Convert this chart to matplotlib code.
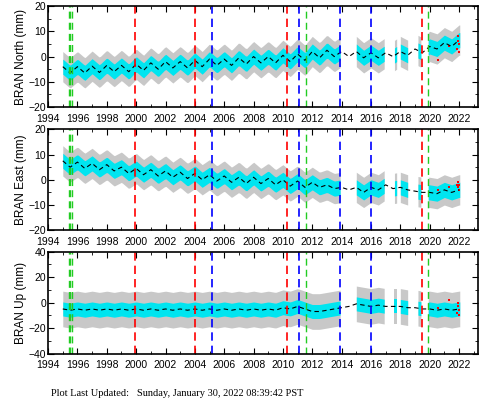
import numpy as np
import matplotlib.pyplot as plt
from matplotlib.ticker import MultipleLocator

# model curve knots, every half year from 1995.0 to 2022.0
model_years = np.arange(1995.0, 2022.01, 0.5)
north_model = [-4, -6.5, -4, -6.5, -3.8, -6.3, -3.5, -6, -3.5, -6, -3, -5.5, -2.5, -5,
               -2, -4.5, -2, -4.5, -1.5, -4, -1, -3.5, -1, -3.5, -0.5, -3, 0, -2.5,
               0, -2.5, 0.5, -2, 1, -1.5, 2, -0.5, 2.5, 0, 2, 0, 2, -0.5, 1.5, -0.5,
               1.5, 0, 2, 0.5, 3, 1.5, 4, 3, 5.5, 4, 6.5]
east_model = [7.5, 5, 7, 4.5, 6.5, 4, 6, 3.5, 5, 2.5, 4.5, 2, 4, 1.5, 3.5, 1, 3, 0.5,
              2.5, 0, 2, -0.5, 1.5, -1, 1, -1.5, 1, -1.5, 0.5, -2, 0, -2.5, -0.5, -3,
              -1, -3, -2, -3.5, -3, -4, -3, -5, -3, -4, -2, -3.5, -3, -4, -4.5, -5,
              -5, -5.5, -4, -5, -4]
up_model = [-5, -6, -5, -6, -5, -6, -5, -6, -5, -6, -5, -6, -5, -6, -5, -6, -5, -6,
            -5, -6, -5, -6, -5, -6, -5, -6, -5, -6, -5, -6, -4, -5, -3, -5, -7, -7,
            -6, -5, -4, -3, -1, -2, -3, -2, -3, -3, -3, -4, -4, -5, -5, -6, -5, -6, -5]

segments = [(1995.0, 2013.9), (2015.0, 2016.9), (2017.6, 2017.75), (2018.0, 2018.5),
            (2019.2, 2019.4), (2019.9, 2022.05)]

# (cyan half width, gray half width)
spreads = {"North": (3, 6), "East": (3, 6), "Up": (5.5, 14)}

red_x = [2021.85, 2021.9, 2021.95, 2022.0, 2022.02, 2020.6, 2021.3]
red_y = {"North": [3, 6, 8, 5, 2, -1.5, 4],
         "East": [-2, -3, -1, -4, -2, -4, -3],
         "Up": [-8, -3, 0, -10, -6, -4, 2]}

red_lines = [1999.9, 2004.0, 2010.3, 2019.5]
blue_lines = [2005.2, 2011.1, 2013.9, 2016.0]
green_lines = [1995.4, 1995.5, 1995.6, 2011.6, 2019.9]

panels = [("North", north_model, 20, 10, [0.735, 0.25]),
          ("East", east_model, 20, 10, [0.43, 0.25]),
          ("Up", up_model, 40, 20, [0.125, 0.252])]

fig = plt.figure(figsize=(4.81, 4.04), dpi=100)
plt.rcParams["font.family"] = ["Liberation Sans", "DejaVu Sans"]

for name, model, lim, step, (bot, h) in panels:
    ax = fig.add_axes([0.1, bot, 0.894, h])
    cw, gw = spreads[name]
    for s, e in segments:
        xs = np.linspace(s, e, 200)
        ys = np.interp(xs, model_years, model)
        ax.fill_between(xs, ys - gw, ys + gw, color="#c8c8c8", lw=0)
        ax.fill_between(xs, ys - cw, ys + cw, color="#00e5f0", lw=0)
    ax.plot(red_x, red_y[name], "s", color="red", ms=2, mew=0)
    ax.plot(model_years, model, "--", color="black", lw=0.8, dashes=(4, 3))
    for xv in red_lines:
        ax.axvline(xv, color="red", lw=1.2, dashes=(5, 3))
    for xv in blue_lines:
        ax.axvline(xv, color="blue", lw=1.2, dashes=(5, 3))
    for xv in green_lines:
        ax.axvline(xv, color="#22cc22", lw=1.0, dashes=(5, 3))
    ax.set_xlim(1994, 2023.3)
    ax.set_ylim(-lim, lim)
    ax.xaxis.set_major_locator(MultipleLocator(2))
    ax.xaxis.set_minor_locator(MultipleLocator(1))
    ax.yaxis.set_major_locator(MultipleLocator(step))
    ax.yaxis.set_minor_locator(MultipleLocator(step / 2))
    ax.tick_params(which="both", direction="in", top=True, right=True, labelsize=7.5, pad=1.5)
    ax.tick_params(axis="x", which="both", pad=5)
    ax.tick_params(which="major", length=4)
    ax.tick_params(which="minor", length=2)
    for sp in ax.spines.values():
        sp.set_linewidth(1.2)
    ax.set_ylabel(f"BRAN {name} (mm)", fontsize=8.5, labelpad=1)

fig.text(0.105, 0.02, "Plot Last Updated:   Sunday, January 30, 2022 08:39:42 PST",
         fontsize=7.5, family="Liberation Serif")
fig.savefig("out.png", dpi=100)
